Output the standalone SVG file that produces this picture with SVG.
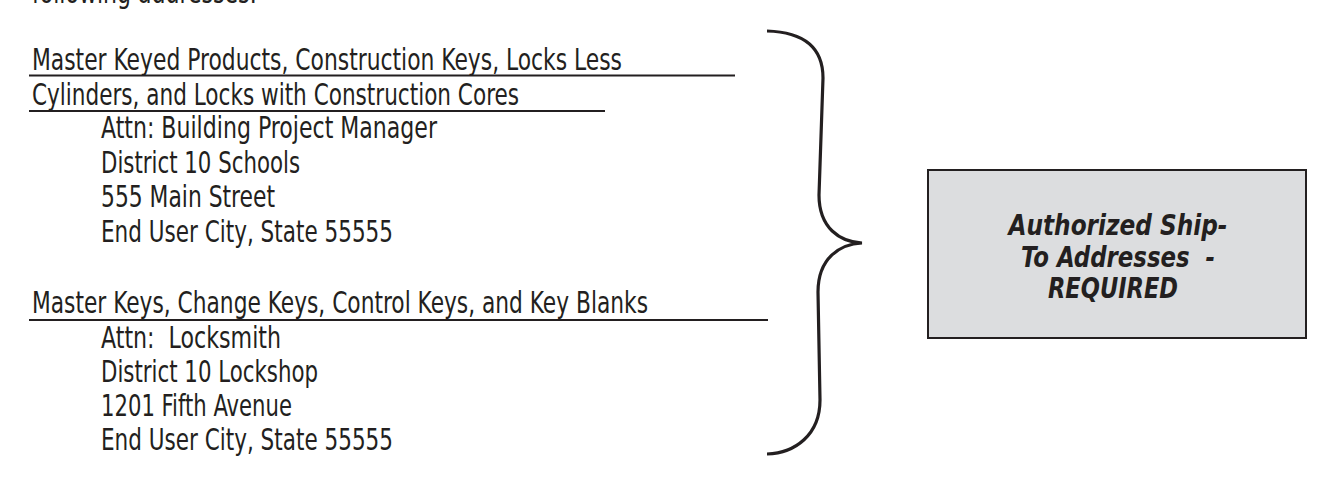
<svg xmlns="http://www.w3.org/2000/svg" width="1337" height="477" viewBox="0 0 1337 477">
<style>
text{white-space:pre;}
.t{font-family:"Liberation Sans Narrow","DejaVu Sans Condensed","Liberation Sans",sans-serif;font-size:30px;fill:#231f20;}
.b{font-family:"Liberation Sans Narrow","DejaVu Sans Condensed","Liberation Sans",sans-serif;font-size:28px;font-weight:bold;font-style:italic;fill:#231f20;text-anchor:middle;}
.u{stroke:#231f20;stroke-width:2.2;}
</style>
<rect width="1337" height="477" fill="#ffffff"/>
<g id="intro">
<text class="t" x="32" y="3" textLength="225" lengthAdjust="spacingAndGlyphs">following addresses:</text>
</g>
<g id="group1">
<text class="t" x="32" y="70" textLength="590" lengthAdjust="spacingAndGlyphs">Master Keyed Products, Construction Keys, Locks Less</text>
<line class="u" x1="29" y1="75.5" x2="735" y2="75.5"/>
<text class="t" x="32" y="105" textLength="487" lengthAdjust="spacingAndGlyphs">Cylinders, and Locks with Construction Cores</text>
<line class="u" x1="29" y1="111" x2="605" y2="111"/>
<text class="t" x="101" y="138" textLength="336" lengthAdjust="spacingAndGlyphs">Attn: Building Project Manager</text>
<text class="t" x="101" y="173" textLength="199" lengthAdjust="spacingAndGlyphs">District 10 Schools</text>
<text class="t" x="101" y="207" textLength="174" lengthAdjust="spacingAndGlyphs">555 Main Street</text>
<text class="t" x="101" y="242" textLength="292" lengthAdjust="spacingAndGlyphs">End User City, State 55555</text>
</g>
<g id="group2">
<text class="t" x="32" y="313" textLength="616" lengthAdjust="spacingAndGlyphs">Master Keys, Change Keys, Control Keys, and Key Blanks</text>
<line class="u" x1="29" y1="320" x2="768" y2="320"/>
<text class="t" x="101" y="348" textLength="180" lengthAdjust="spacingAndGlyphs">Attn:  Locksmith</text>
<text class="t" x="101" y="382" textLength="217" lengthAdjust="spacingAndGlyphs">District 10 Lockshop</text>
<text class="t" x="101" y="416" textLength="191" lengthAdjust="spacingAndGlyphs">1201 Fifth Avenue</text>
<text class="t" x="101" y="450" textLength="292" lengthAdjust="spacingAndGlyphs">End User City, State 55555</text>
</g>
<g id="connectors">
<path d="M767,31 C800,32 823,45 823,78 L819,195 C819,228 840,242 862,243 C840,244 818,258 818,292 L820,400 C820,435 795,453 767,454" fill="none" stroke="#231f20" stroke-width="3.2"/>
</g>
<g id="box">
<rect x="928" y="170" width="378" height="168" fill="#dcdddf" stroke="#231f20" stroke-width="2"/>
<text class="b" x="1118" y="235" textLength="219" lengthAdjust="spacingAndGlyphs">Authorized Ship-</text>
<text class="b" x="1118" y="267" textLength="194" lengthAdjust="spacingAndGlyphs">To Addresses  -</text>
<text class="b" x="1113" y="298" textLength="130" lengthAdjust="spacingAndGlyphs">REQUIRED</text>
</g>
</svg>
